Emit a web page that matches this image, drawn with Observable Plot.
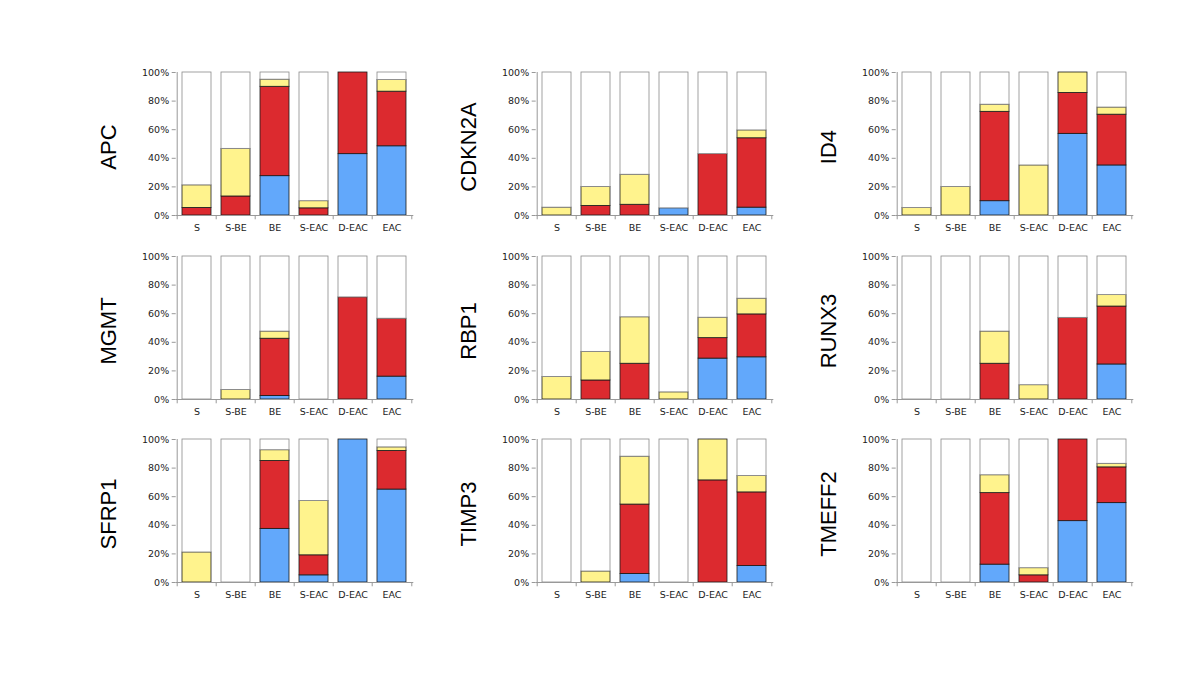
<!DOCTYPE html>
<html>
<head>
<meta charset="utf-8">
<script src="https://cdn.jsdelivr.net/npm/d3@7"></script>
<script src="https://cdn.jsdelivr.net/npm/@observablehq/plot@0.6"></script>
<style>
  html, body { margin: 0; padding: 0; background: #fff; }
  #root { position: relative; width: 1200px; height: 689px; overflow: hidden; background: #fff; }
  .panel { position: absolute; }
  .panel svg { background: transparent; }
</style>
</head>
<body>
<div id="root"></div>
<script>
const categories = ["S", "S-BE", "BE", "S-EAC", "D-EAC", "EAC"];
const genes = ["APC", "CDKN2A", "ID4", "MGMT", "RBP1", "RUNX3", "SFRP1", "TIMP3", "TMEFF2"];
const yTicks = [0, 20, 40, 60, 80, 100];
const tickLabels = ["0%", "20%", "40%", "60%", "80%", "100%"];
const seriesNames = ["s1", "s2", "s3", "s4"];
const seriesColors = ["#62a8fb", "#dc2a2f", "#fff38d", "#ffffff"];

// percentage per category (order of categories), for blue, red, yellow segments; white fills to 100
const blue = {
  APC:    [0, 0, 27.5, 0, 42.9, 48.4],
  CDKN2A: [0, 0, 0, 5, 0, 5.5],
  ID4:    [0, 0, 10, 0, 57.1, 35],
  MGMT:   [0, 0, 2.5, 0, 0, 16],
  RBP1:   [0, 0, 0, 0, 28.6, 29.5],
  RUNX3:  [0, 0, 0, 0, 0, 24.5],
  SFRP1:  [0, 0, 37.5, 5, 100, 65],
  TIMP3:  [0, 0, 6, 0, 0, 11.5],
  TMEFF2: [0, 0, 12.5, 0, 42.9, 55.5]
};
const red = {
  APC:    [5.3, 13.3, 62.5, 5, 57.1, 38.2],
  CDKN2A: [0, 6.7, 7.5, 0, 42.9, 48.5],
  ID4:    [0, 0, 62.5, 0, 28.6, 35.5],
  MGMT:   [0, 0, 40, 0, 71.4, 40.5],
  RBP1:   [0, 13.3, 25, 0, 14.3, 30],
  RUNX3:  [0, 0, 25, 0, 57.1, 40.5],
  SFRP1:  [0, 0, 47.5, 14, 0, 27],
  TIMP3:  [0, 0, 48.5, 0, 71.4, 51.5],
  TMEFF2: [0, 0, 50, 5, 57.1, 25]
};
const yellow = {
  APC:    [15.8, 33.3, 5, 5, 0, 8.1],
  CDKN2A: [5.5, 13.3, 21, 0, 0, 5.5],
  ID4:    [5.3, 20, 5, 35, 14.3, 5],
  MGMT:   [0, 6.7, 5, 0, 0, 0],
  RBP1:   [15.8, 20, 32.5, 5, 14.3, 11],
  RUNX3:  [0, 0, 22.5, 10, 0, 8],
  SFRP1:  [21, 0, 7.5, 38, 0, 2.5],
  TIMP3:  [0, 7.7, 33.5, 0, 28.6, 11.5],
  TMEFF2: [0, 0, 12.5, 5, 0, 2.5]
};

const root = document.getElementById("root");
const W = 360, H = 183;
const mL = 115.7, mR = 6.7, mT = 16, mB = 24;
const step = (W - mL - mR) / categories.length;

genes.forEach((gene, gi) => {
  const col = gi % 3, row = Math.floor(gi / 3);
  const rows = [];
  categories.forEach((c, ci) => {
    const b = blue[gene][ci], r = red[gene][ci], y = yellow[gene][ci];
    const w = Math.max(0, 100 - b - r - y);
    [b, r, y, w].forEach((v, si) => rows.push({cat: c, series: seriesNames[si], value: v}));
  });
  const plot = Plot.plot({
    width: W, height: H,
    marginLeft: mL, marginRight: mR, marginTop: mT, marginBottom: mB,
    style: {background: "transparent", fontFamily: "Verdana, 'DejaVu Sans', sans-serif", fontSize: "9.5px", color: "#222", overflow: "visible"},
    x: {domain: categories, paddingInner: 0.255, paddingOuter: 0.1275, axis: null, label: null},
    y: {domain: [0, 100], axis: null, label: null},
    color: {domain: seriesNames, range: seriesColors},
    marks: [
      Plot.barY(rows, {
        filter: d => d.value > 0,
        x: "cat", y: "value", fill: "series", order: seriesNames,
        stroke: d => d.series === "s4" ? "#8a8a8a" : "#1a1a1a",
        strokeWidth: 0.8
      }),
      Plot.ruleY([0], {stroke: "#999", strokeWidth: 1}),
      Plot.ruleX([categories[0]], {x: d => d, dx: -step / 2, y1: 0, y2: 100, stroke: "#999", strokeWidth: 1}),
      Plot.axisY({ticks: yTicks, tickFormat: d => tickLabels[yTicks.indexOf(d)], tickSize: 4, stroke: "#999", tickPadding: 3, fill: "#222", fontSize: 9.5, label: null}),
      Plot.axisX({tickSize: 0, tickPadding: 9, fill: "#222", fontSize: 9.5, label: null}),
      Plot.ruleX(categories, {x: d => d, dx: -step / 2, y1: 0, y2: -3, stroke: "#999"}),
      Plot.ruleX([categories[categories.length - 1]], {x: d => d, dx: step / 2, y1: 0, y2: -3, stroke: "#999"}),
      Plot.text([gene], {frameAnchor: "left", text: d => d, textAnchor: "middle", lineAnchor: "middle", dx: -(mL - 48), dy: 3, rotate: -90, fontSize: 22, fill: "#000", fontFamily: "'Liberation Sans', Arial, sans-serif"})
    ]
  });
  const div = document.createElement("div");
  div.className = "panel";
  div.style.left = (60 + col * 360) + "px";
  div.style.top = (56 + row * 183.5) + "px";
  div.appendChild(plot);
  root.appendChild(div);
});
</script>
</body>
</html>
